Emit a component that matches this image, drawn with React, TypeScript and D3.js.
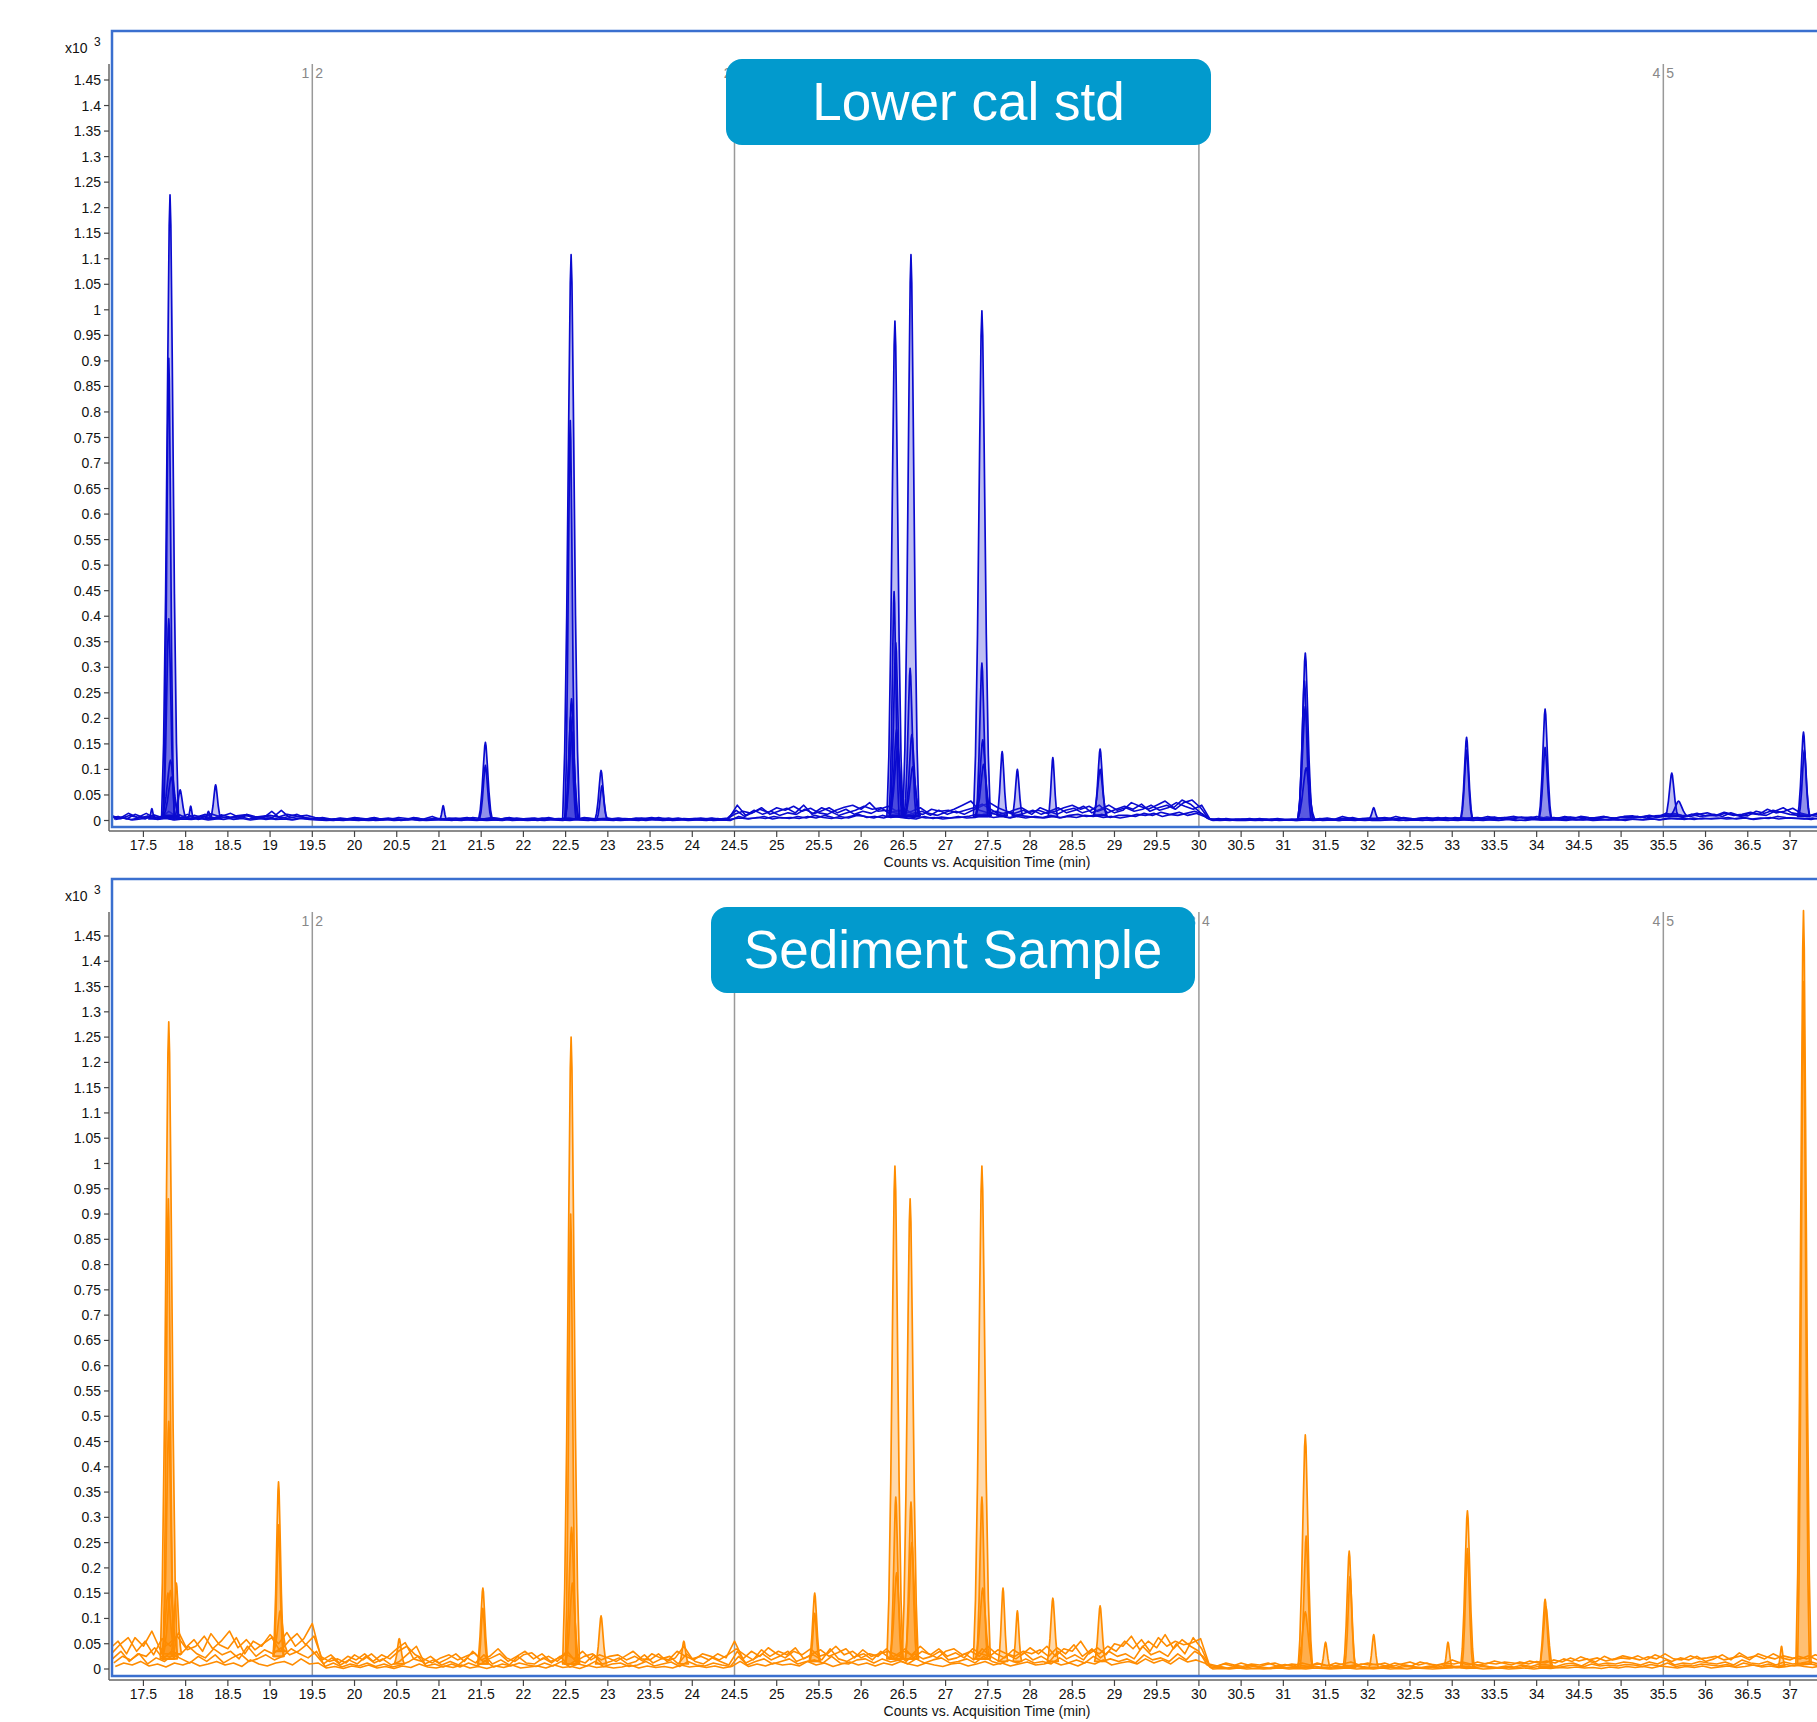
import React from "react";
import * as d3 from "d3";

// axis ticks
const timeTicks = [17.5, 18, 18.5, 19, 19.5, 20, 20.5, 21, 21.5, 22, 22.5, 23, 23.5, 24, 24.5, 25, 25.5, 26, 26.5, 27, 27.5, 28, 28.5, 29, 29.5, 30, 30.5, 31, 31.5, 32, 32.5, 33, 33.5, 34, 34.5, 35, 35.5, 36, 36.5, 37];
const countTicks = [0, 50, 100, 150, 200, 250, 300, 350, 400, 450, 500, 550, 600, 650, 700, 750, 800, 850, 900, 950, 1000, 1050, 1100, 1150, 1200, 1250, 1300, 1350, 1400, 1450];

// acquisition segments
const segmentBreaks = [19.5, 24.5, 30, 35.5];
const segmentLabels = [["1", "2"], ["2", "3"], ["3", "4"], ["4", "5"]];

// baseline noise, counts, sampled every 0.1 min from each trace's start time
const noiseStep = 0.1;
const noiseStarts = [17.1, 17.133, 17.167, 17.12, 17.15];

const calNoiseA = [
  5, 8, 3, 12, 6, 9, 4, 18, 7, 5,
  10, 6, 13, 8, 5, 9, 11, 6, 8, 10,
  7, 12, 9, 6, 4, 3, 2, 1, 3, 6,
  4, 2, 3, 5, 1, 2, 6, 3, 2, 4,
  3, 5, 2, 6, 4, 3, 2, 5, 3, 2,
  4, 3, 6, 2, 5, 3, 4, 2, 3, 5,
  2, 4, 3, 5, 2, 6, 3, 2, 4, 3,
  5, 3, 4, 2, 12, 18, 14, 22, 16, 25,
  20, 28, 18, 24, 15, 12, 20, 26, 30, 22,
  35, 18, 20, 15, 12, 18, 25, 14, 10, 16,
  22, 30, 38, 20, 15, 18, 12, 20, 25, 16,
  20, 14, 18, 25, 30, 22, 28, 18, 24, 15,
  20, 35, 28, 22, 30, 38, 25, 40, 32, 18,
  4, 2, 3, 1, 2, 4, 2, 3, 1, 2,
  3, 2, 4, 1, 3, 2, 8, 4, 3, 5,
  4, 6, 3, 5, 2, 4, 6, 3, 5, 4,
  3, 5, 6, 4, 7, 3, 5, 6, 4, 8,
  5, 6, 4, 7, 5, 3, 6, 8, 4, 7,
  6, 8, 5, 9, 10, 12, 8, 10, 14, 9,
  12, 8, 15, 10, 9, 18, 14, 20, 16, 12,
  10, 8, 12, 9,
];
const calNoiseB = [
  8, 4, 10, 6, 14, 5, 9, 6, 11, 3,
  7, 12, 5, 9, 14, 6, 10, 4, 8, 6,
  20, 5, 8, 10, 6, 4, 2, 5, 3, 1,
  3, 6, 2, 4, 3, 1, 5, 2, 4, 3,
  2, 4, 6, 3, 2, 5, 3, 6, 2, 4,
  5, 2, 4, 3, 6, 2, 5, 3, 4, 2,
  4, 2, 5, 3, 4, 2, 3, 5, 2, 4,
  3, 5, 2, 4, 30, 10, 20, 12, 18, 10,
  15, 12, 22, 14, 25, 18, 10, 15, 20, 28,
  22, 25, 14, 20, 10, 15, 12, 22, 18, 20,
  15, 20, 25, 32, 22, 12, 16, 10, 14, 20,
  12, 18, 25, 15, 20, 28, 15, 22, 30, 20,
  25, 18, 22, 30, 20, 25, 35, 28, 22, 30,
  2, 4, 1, 3, 2, 1, 3, 2, 4, 1,
  2, 3, 1, 4, 2, 3, 5, 2, 4, 3,
  5, 3, 8, 4, 3, 5, 4, 6, 3, 6,
  4, 6, 3, 5, 4, 6, 8, 5, 7, 4,
  6, 4, 8, 5, 7, 5, 4, 6, 5, 8,
  9, 6, 10, 7, 14, 10, 6, 12, 8, 10,
  9, 14, 10, 12, 16, 12, 22, 15, 18, 24,
  14, 10, 8, 12,
];
const calNoiseC = [
  2, 5, 1, 3, 6, 2, 4, 1, 3, 2,
  4, 1, 3, 6, 2, 4, 1, 3, 5, 2,
  3, 1, 4, 2, 1, 0, 1, 0, 2, 1,
  0, 1, 2, 0, 1, 3, 0, 1, 2, 1,
  1, 0, 2, 1, 0, 1, 3, 0, 1, 2,
  0, 2, 1, 0, 3, 1, 0, 2, 1, 0,
  2, 1, 0, 3, 1, 2, 0, 1, 2, 1,
  0, 2, 1, 3, 5, 3, 6, 4, 8, 5,
  6, 4, 8, 5, 10, 6, 4, 8, 12, 6,
  8, 5, 10, 6, 4, 8, 5, 6, 3, 5,
  6, 8, 12, 10, 6, 8, 5, 10, 8, 6,
  5, 8, 6, 10, 12, 8, 10, 6, 8, 5,
  8, 12, 10, 14, 8, 12, 16, 10, 14, 8,
  0, 1, 0, 2, 1, 0, 1, 0, 2, 1,
  0, 1, 2, 0, 1, 0, 2, 1, 0, 1,
  1, 2, 0, 1, 2, 1, 0, 2, 1, 0,
  2, 1, 0, 2, 1, 3, 1, 0, 2, 1,
  1, 2, 3, 1, 2, 0, 1, 2, 1, 3,
  2, 1, 3, 2, 5, 3, 4, 2, 5, 3,
  4, 6, 3, 5, 2, 4, 6, 3, 5, 4,
  3, 5, 2, 4,
];
const calNoiseD = [
  10, 4, 14, 7, 3, 11, 6, 9, 4, 12,
  5, 9, 3, 11, 7, 4, 12, 8, 5, 18,
  4, 8, 12, 5, 3, 6, 3, 4, 2, 5,
  2, 5, 3, 2, 6, 4, 2, 3, 8, 2,
  5, 3, 4, 2, 3, 6, 4, 3, 5, 3,
  2, 5, 3, 4, 3, 2, 6, 4, 2, 3,
  5, 3, 2, 4, 6, 3, 5, 2, 3, 4,
  2, 4, 3, 5, 20, 8, 16, 25, 12, 18,
  24, 15, 30, 12, 18, 25, 15, 22, 12, 18,
  14, 22, 28, 18, 22, 12, 18, 10, 20, 12,
  18, 12, 20, 28, 35, 25, 18, 14, 20, 12,
  25, 18, 12, 20, 24, 15, 20, 30, 15, 22,
  28, 22, 32, 18, 25, 30, 22, 35, 40, 25,
  3, 1, 4, 2, 3, 2, 4, 1, 3, 2,
  1, 4, 2, 3, 5, 2, 3, 6, 2, 4,
  3, 5, 2, 6, 4, 3, 5, 2, 6, 3,
  6, 3, 4, 8, 5, 6, 3, 7, 5, 3,
  7, 4, 6, 3, 8, 6, 5, 7, 4, 6,
  5, 7, 9, 6, 8, 14, 10, 8, 12, 15,
  10, 16, 12, 8, 14, 12, 10, 18, 25, 15,
  12, 9, 14, 10,
];
const calNoiseE = [
  3, 7, 2, 5, 9, 3, 6, 2, 5, 8,
  2, 6, 4, 2, 5, 8, 3, 5, 2, 4,
  6, 2, 5, 3, 2, 1, 0, 2, 1, 0,
  2, 0, 1, 3, 0, 2, 1, 0, 1, 2,
  0, 2, 1, 0, 2, 1, 0, 2, 1, 0,
  1, 0, 2, 1, 0, 2, 1, 0, 2, 1,
  0, 1, 2, 0, 2, 0, 1, 2, 0, 1,
  2, 0, 1, 0, 8, 4, 5, 8, 3, 6,
  4, 8, 5, 10, 6, 4, 8, 5, 10, 8,
  5, 10, 6, 8, 5, 3, 8, 4, 7, 5,
  8, 5, 6, 12, 14, 10, 6, 8, 5, 8,
  6, 10, 5, 8, 6, 10, 8, 12, 6, 10,
  10, 8, 14, 10, 16, 12, 10, 14, 18, 12,
  1, 0, 1, 0, 0, 1, 0, 2, 0, 1,
  0, 2, 0, 1, 2, 0, 1, 0, 2, 0,
  0, 1, 2, 0, 1, 0, 2, 1, 0, 2,
  1, 0, 2, 1, 0, 2, 0, 1, 3, 1,
  2, 1, 0, 2, 1, 3, 2, 1, 2, 0,
  3, 2, 4, 1, 3, 4, 2, 5, 3, 4,
  5, 3, 4, 6, 3, 5, 4, 8, 6, 5,
  4, 2, 5, 3,
];

const sedNoiseA = [
  40, 55, 30, 62, 45, 75, 38, 50, 65, 42,
  58, 35, 70, 48, 40, 62, 30, 55, 45, 68,
  50, 72, 45, 60, 90, 25, 15, 20, 12, 28,
  18, 30, 15, 25, 40, 52, 20, 15, 25, 12,
  20, 30, 15, 35, 18, 25, 40, 22, 15, 28,
  32, 18, 25, 15, 30, 20, 35, 18, 28, 22,
  15, 25, 35, 20, 18, 30, 15, 22, 45, 20,
  25, 18, 30, 22, 55, 20, 35, 25, 42, 30,
  22, 35, 28, 40, 25, 30, 45, 28, 35, 22,
  30, 25, 40, 20, 35, 28, 45, 30, 22, 35,
  40, 28, 35, 25, 45, 30, 22, 38, 28, 42,
  30, 45, 25, 40, 35, 55, 30, 42, 28, 50,
  45, 65, 38, 55, 42, 68, 40, 58, 45, 35,
  8, 5, 10, 6, 12, 7, 4, 9, 12, 6,
  10, 8, 5, 12, 8, 6, 10, 14, 8, 12,
  8, 12, 6, 10, 14, 8, 12, 6, 10, 18,
  12, 8, 14, 10, 16, 12, 8, 14, 10, 15,
  12, 18, 14, 22, 16, 20, 14, 25, 18, 22,
  20, 26, 18, 28, 22, 15, 22, 18, 25, 15,
  20, 28, 18, 32, 22, 26, 20, 30, 22, 18,
  25, 20, 28, 22,
];
const sedNoiseB = [
  20, 35, 15, 30, 25, 42, 20, 35, 28, 45,
  30, 22, 40, 28, 35, 20, 45, 25, 38, 30,
  42, 28, 35, 48, 30, 10, 22, 8, 18, 10,
  25, 12, 20, 8, 15, 30, 45, 10, 18, 8,
  15, 8, 22, 12, 28, 10, 18, 8, 25, 12,
  10, 22, 12, 25, 8, 18, 12, 28, 10, 15,
  22, 10, 15, 28, 12, 20, 25, 10, 30, 15,
  10, 22, 15, 8, 35, 12, 20, 30, 18, 25,
  35, 15, 22, 28, 18, 40, 20, 15, 25, 30,
  18, 35, 22, 28, 15, 30, 20, 25, 35, 18,
  22, 30, 18, 40, 25, 15, 28, 20, 32, 18,
  25, 15, 35, 20, 28, 18, 40, 22, 35, 25,
  30, 20, 45, 28, 35, 25, 50, 30, 62, 40,
  3, 6, 2, 5, 3, 8, 4, 2, 6, 3,
  5, 3, 7, 4, 2, 6, 4, 8, 5, 3,
  4, 6, 3, 8, 5, 3, 6, 4, 8, 5,
  6, 4, 8, 5, 3, 6, 4, 8, 5, 10,
  8, 5, 10, 12, 6, 15, 9, 12, 10, 14,
  12, 8, 14, 10, 18, 8, 12, 10, 15, 12,
  10, 14, 8, 18, 12, 10, 15, 8, 14, 10,
  12, 15, 10, 14,
];
const sedNoiseC = [
  5, 12, 8, 15, 6, 10, 4, 12, 8, 14,
  6, 10, 15, 8, 12, 5, 18, 10, 6, 12,
  15, 8, 20, 10, 12, 2, 5, 1, 6, 3,
  8, 2, 5, 1, 6, 3, 10, 4, 2, 6,
  3, 8, 2, 5, 1, 6, 3, 8, 2, 4,
  6, 2, 8, 3, 5, 1, 7, 3, 5, 2,
  4, 8, 2, 6, 3, 5, 2, 8, 4, 6,
  3, 6, 2, 5, 15, 5, 10, 6, 12, 8,
  10, 6, 15, 8, 12, 5, 10, 14, 8, 12,
  6, 12, 8, 15, 10, 6, 12, 8, 5, 10,
  12, 6, 10, 15, 8, 12, 6, 10, 14, 8,
  10, 15, 8, 12, 6, 14, 10, 18, 8, 12,
  15, 10, 20, 12, 18, 10, 22, 14, 18, 12,
  0, 1, 0, 2, 0, 1, 0, 1, 2, 0,
  1, 0, 2, 1, 0, 1, 2, 0, 1, 0,
  2, 0, 1, 0, 2, 1, 0, 1, 2, 3,
  1, 2, 0, 1, 2, 0, 1, 2, 0, 2,
  1, 3, 2, 4, 2, 3, 1, 4, 2, 5,
  3, 5, 2, 6, 4, 2, 5, 3, 6, 2,
  4, 6, 3, 5, 8, 4, 6, 3, 5, 8,
  5, 3, 6, 4,
];
const sedNoiseD = [
  30, 48, 62, 35, 55, 28, 60, 45, 72, 38,
  45, 65, 40, 55, 75, 42, 58, 38, 50, 62,
  35, 55, 70, 48, 65, 18, 28, 12, 25, 18,
  30, 15, 28, 20, 35, 45, 28, 20, 12, 22,
  28, 18, 25, 32, 15, 22, 30, 15, 25, 35,
  20, 30, 15, 22, 35, 15, 25, 30, 18, 25,
  28, 18, 25, 15, 30, 22, 18, 35, 25, 18,
  30, 25, 18, 28, 40, 28, 18, 38, 25, 35,
  28, 42, 20, 30, 38, 25, 32, 40, 22, 38,
  25, 30, 35, 28, 40, 22, 35, 28, 40, 25,
  32, 22, 40, 30, 25, 38, 30, 25, 35, 30,
  38, 25, 42, 30, 48, 25, 38, 30, 45, 35,
  55, 40, 58, 35, 62, 45, 55, 48, 52, 60,
  10, 6, 12, 8, 5, 10, 8, 12, 6, 9,
  6, 12, 8, 10, 6, 12, 8, 5, 10, 8,
  10, 6, 12, 8, 6, 14, 10, 8, 12, 10,
  14, 10, 8, 12, 10, 14, 12, 10, 16, 12,
  16, 12, 20, 15, 24, 18, 22, 16, 20, 26,
  22, 18, 24, 20, 30, 20, 18, 26, 20, 22,
  25, 18, 22, 26, 18, 30, 24, 20, 26, 22,
  20, 26, 18, 24,
];
const sedNoiseE = [
  12, 25, 18, 30, 10, 22, 15, 28, 20, 12,
  25, 15, 28, 12, 22, 30, 15, 20, 28, 18,
  25, 40, 30, 22, 35, 5, 12, 4, 10, 6,
  12, 5, 10, 4, 8, 15, 25, 6, 10, 4,
  10, 4, 12, 6, 15, 4, 10, 6, 12, 8,
  5, 12, 6, 15, 4, 10, 6, 15, 5, 10,
  12, 5, 8, 15, 6, 10, 14, 5, 15, 8,
  6, 12, 8, 5, 25, 8, 15, 20, 10, 15,
  20, 10, 15, 18, 12, 25, 12, 10, 18, 20,
  12, 20, 14, 18, 10, 20, 12, 18, 22, 12,
  15, 20, 12, 25, 15, 10, 18, 12, 20, 12,
  15, 10, 22, 12, 18, 12, 25, 15, 20, 15,
  20, 12, 28, 18, 22, 15, 30, 18, 35, 25,
  2, 4, 1, 3, 2, 5, 2, 1, 4, 2,
  3, 2, 5, 2, 1, 4, 2, 5, 3, 2,
  2, 4, 2, 5, 3, 2, 4, 2, 5, 3,
  4, 2, 5, 3, 2, 4, 2, 5, 3, 6,
  5, 3, 6, 8, 4, 10, 6, 8, 6, 9,
  8, 5, 9, 6, 12, 5, 8, 6, 10, 8,
  6, 9, 5, 12, 8, 6, 10, 5, 9, 6,
  8, 10, 6, 9,
];

// integrated peaks: [retention time (min), base width (min), height (counts), baseline (counts)]
const calPeaks = [
  [17.815, 0.2, 1220, 5], [17.8, 0.13, 900, 5], [17.8, 0.14, 390, 5], [17.82, 0.2, 110, 8], [17.83, 0.18, 75, 10],
  [17.935, 0.14, 55, 5], [18.06, 0.07, 25, 3], [18.355, 0.12, 65, 5], [17.6, 0.07, 20, 3], [18.27, 0.08, 15, 3],
  [21.05, 0.08, 27, 2], [21.55, 0.16, 150, 3], [21.55, 0.14, 105, 3],
  [22.565, 0.2, 1105, 3], [22.555, 0.13, 780, 3], [22.57, 0.15, 235, 3], [22.56, 0.13, 200, 3], [22.575, 0.16, 170, 3],
  [22.92, 0.14, 95, 3], [22.93, 0.12, 65, 3],
  [26.4, 0.19, 970, 8], [26.39, 0.12, 440, 8], [26.41, 0.14, 340, 8], [26.42, 0.16, 170, 8], [26.43, 0.18, 130, 10],
  [26.59, 0.19, 1100, 8], [26.58, 0.14, 290, 8], [26.6, 0.16, 160, 8], [26.61, 0.18, 95, 10],
  [27.43, 0.2, 990, 8], [27.43, 0.14, 300, 8], [27.44, 0.17, 150, 8], [27.45, 0.18, 100, 10],
  [27.67, 0.12, 125, 10], [27.85, 0.12, 90, 10], [28.27, 0.11, 115, 8], [28.83, 0.14, 130, 10], [28.83, 0.16, 90, 10],
  [31.26, 0.17, 325, 3], [31.25, 0.15, 270, 3], [31.26, 0.18, 220, 3], [31.27, 0.2, 100, 3], [32.07, 0.11, 22, 3],
  [33.17, 0.14, 160, 3], [33.17, 0.13, 135, 3], [34.1, 0.15, 215, 3], [34.1, 0.14, 140, 3],
  [35.6, 0.15, 85, 8], [35.68, 0.22, 30, 8], [37.16, 0.14, 165, 8], [37.17, 0.13, 130, 8],
];
const sedPeaks = [
  [17.8, 0.2, 1260, 20], [17.795, 0.13, 910, 20], [17.8, 0.14, 470, 20], [17.82, 0.18, 130, 25], [17.79, 0.16, 120, 30],
  [17.89, 0.12, 140, 30], [19.1, 0.13, 345, 25], [19.1, 0.11, 260, 25], [19.12, 0.16, 80, 35],
  [20.53, 0.12, 50, 10], [21.52, 0.13, 150, 10], [21.52, 0.11, 110, 10],
  [22.565, 0.2, 1240, 10], [22.56, 0.13, 890, 10], [22.57, 0.15, 270, 10], [22.58, 0.16, 160, 10],
  [22.92, 0.13, 95, 10], [23.9, 0.11, 45, 10],
  [25.45, 0.13, 135, 15], [25.45, 0.11, 95, 15],
  [26.4, 0.19, 975, 20], [26.41, 0.13, 320, 20], [26.42, 0.16, 170, 20],
  [26.58, 0.19, 910, 20], [26.59, 0.13, 310, 20], [26.6, 0.16, 230, 20],
  [27.43, 0.2, 975, 20], [27.43, 0.13, 320, 20], [27.44, 0.17, 140, 20],
  [27.68, 0.11, 145, 15], [27.85, 0.1, 100, 15], [28.27, 0.13, 125, 15], [28.83, 0.13, 110, 15],
  [31.26, 0.17, 460, 3], [31.27, 0.14, 260, 3], [31.26, 0.19, 110, 3], [31.5, 0.11, 50, 3],
  [31.78, 0.14, 230, 3], [31.79, 0.13, 180, 3], [32.07, 0.11, 65, 3], [32.95, 0.1, 50, 3],
  [33.18, 0.16, 310, 3], [33.18, 0.13, 235, 3], [34.1, 0.14, 135, 3], [34.11, 0.16, 120, 3],
  [36.9, 0.08, 40, 5], [37.16, 0.18, 1490, 10], [37.16, 0.14, 1350, 10],
];

// relative outline of one peak: [offset in widths, fraction of height]
const peakProfile = [
  [-0.5, 0], [-0.38, 0.12], [-0.26, 0.36], [-0.13, 0.74], [-0.05, 0.95], [0, 1],
  [0.05, 0.95], [0.13, 0.74], [0.26, 0.36], [0.38, 0.12], [0.5, 0],
];

const FONT = "'Liberation Sans', Arial, Helvetica, sans-serif";

type PanelProps = {
  id: string;
  title: string;
  frameTop: number;
  y0: number;
  y1450: number;
  frameBottom: number;
  box: { x: number; y: number; w: number; h: number };
  color: string;
  fill: string;
  noise: number[][];
  peaks: number[][];
};

function Panel(p: PanelProps) {
  const x = d3.scaleLinear().domain([17.116, 37.86]).range([111, 1862.6]);
  const y = d3.scaleLinear().domain([0, 1450]).range([p.y0, p.y1450]);
  const line = d3
    .line<[number, number]>()
    .x((d) => x(d[0]))
    .y((d) => y(d[1]));
  const area = d3
    .area<[number, number, number]>()
    .x((d) => x(d[0]))
    .y0((d) => y(d[2]))
    .y1((d) => y(d[1]));

  const axisY = p.frameBottom + 4;
  const axisTop = p.frameTop + 34;

  const peakPaths = p.peaks.map(([rt, w, h, base]) =>
    area(peakProfile.map(([dx, dy]) => [rt + dx * w, base + dy * h, base] as [number, number, number]))
  );

  return (
    <g fontFamily={FONT}>
      <defs>
        <clipPath id={`clip-${p.id}`}>
          <rect x={113} y={p.frameTop + 2} width={1800} height={p.frameBottom - p.frameTop - 3} />
        </clipPath>
      </defs>

      {/* y axis */}
      <line x1={109} x2={109} y1={axisTop} y2={axisY} stroke="#666" strokeWidth={1.5} />
      {countTicks.map((v) => (
        <g key={v}>
          <line x1={104} x2={109} y1={y(v)} y2={y(v)} stroke="#444" strokeWidth={1.2} />
          <text x={101} y={y(v)} dy="0.36em" textAnchor="end" fontSize={14} fill="#111">
            {String(v / 1000)}
          </text>
        </g>
      ))}
      <text x={65} y={p.frameTop + 23} fontSize={14} fill="#111">
        x10
      </text>
      <text x={94} y={p.frameTop + 16} fontSize={12} fill="#111">
        3
      </text>

      {/* x axis */}
      <line x1={109} x2={1817} y1={axisY} y2={axisY} stroke="#666" strokeWidth={1.5} />
      {timeTicks.map((t) => (
        <g key={t}>
          <line x1={x(t)} x2={x(t)} y1={axisY} y2={axisY + 6} stroke="#444" strokeWidth={1.2} />
          <text x={x(t)} y={axisY + 19} textAnchor="middle" fontSize={14} fill="#111">
            {String(t)}
          </text>
        </g>
      ))}
      <text x={987} y={axisY + 36} textAnchor="middle" fontSize={14} fill="#111">
        Counts vs. Acquisition Time (min)
      </text>

      {/* segment markers */}
      {segmentBreaks.map((b, i) => (
        <g key={b}>
          <line x1={x(b)} x2={x(b)} y1={axisTop} y2={p.frameBottom} stroke="#999" strokeWidth={1.5} />
          <text x={x(b) - 3} y={axisTop + 14} textAnchor="end" fontSize={14} fill="#888">
            {segmentLabels[i][0]}
          </text>
          <text x={x(b) + 3} y={axisTop + 14} fontSize={14} fill="#888">
            {segmentLabels[i][1]}
          </text>
        </g>
      ))}

      {/* traces */}
      <g clipPath={`url(#clip-${p.id})`}>
        {p.noise.map((vals, k) => (
          <path
            key={k}
            d={line(vals.map((v, i) => [noiseStarts[k] + i * noiseStep, v] as [number, number])) || ""}
            fill="none"
            stroke={p.color}
            strokeWidth={1.6}
            strokeLinejoin="round"
          />
        ))}
        {peakPaths.map((d, i) => (
          <path key={`f${i}`} d={d || ""} fill={p.fill} stroke="none" />
        ))}
        {peakPaths.map((d, i) => (
          <path key={`s${i}`} d={d || ""} fill="none" stroke={p.color} strokeWidth={1.7} strokeLinejoin="round" />
        ))}
      </g>

      {/* frame */}
      <rect
        x={112}
        y={p.frameTop + 1}
        width={1800}
        height={p.frameBottom - p.frameTop - 1}
        fill="none"
        stroke="#3a6fcf"
        strokeWidth={2.5}
      />

      {/* title badge */}
      <rect x={p.box.x} y={p.box.y} width={p.box.w} height={p.box.h} rx={16} fill="#029acd" />
      <text
        x={p.box.x + p.box.w / 2}
        y={p.box.y + 61}
        textAnchor="middle"
        fontSize={53}
        fill="#fff"
      >
        {p.title}
      </text>
    </g>
  );
}

export default function App() {
  return (
    <svg
      width={1817}
      height={1722}
      style={{ position: "absolute", left: 0, top: 0, display: "block", background: "#fff" }}
    >
      <rect width={1817} height={1722} fill="#fff" />
      <Panel
        id="cal"
        title="Lower cal std"
        frameTop={30}
        y0={820.5}
        y1450={80}
        frameBottom={827}
        box={{ x: 726, y: 59, w: 485, h: 86 }}
        color="#0a0acf"
        fill="rgba(40,40,215,0.3)"
        noise={[calNoiseA, calNoiseB, calNoiseC, calNoiseD, calNoiseE]}
        peaks={calPeaks}
      />
      <Panel
        id="sed"
        title="Sediment Sample"
        frameTop={878}
        y0={1669}
        y1450={936}
        frameBottom={1676}
        box={{ x: 711, y: 907, w: 484, h: 86 }}
        color="#ff8c00"
        fill="rgba(255,140,0,0.33)"
        noise={[sedNoiseA, sedNoiseB, sedNoiseC, sedNoiseD, sedNoiseE]}
        peaks={sedPeaks}
      />
    </svg>
  );
}
